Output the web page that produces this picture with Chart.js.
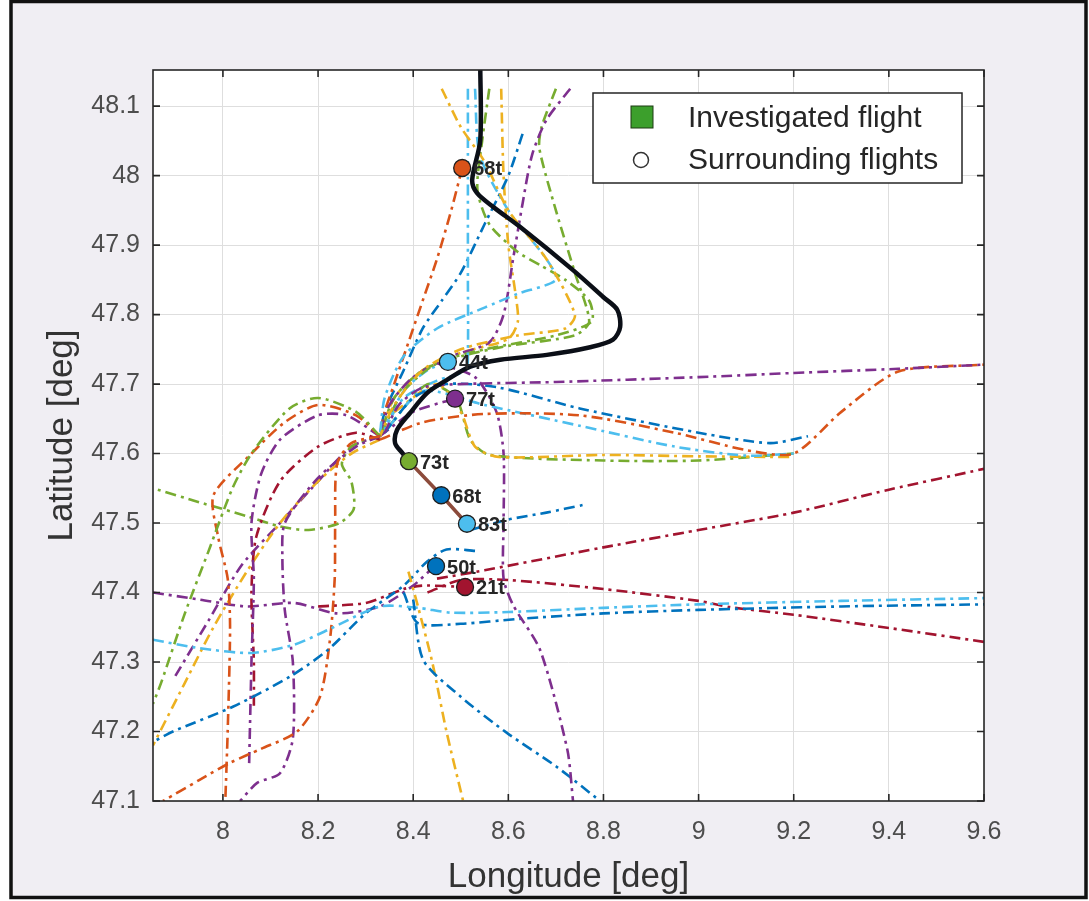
<!DOCTYPE html>
<html lang="en">
<head>
<meta charset="utf-8">
<title>Investigated and surrounding flights</title>
<script src="https://cdn.jsdelivr.net/npm/chart.js"></script>
<style>
  html, body { margin: 0; padding: 0; background: #fff; }
  #wrap { position: relative; width: 1089px; height: 901px; }
</style>
</head>
<body>
<div id="wrap"><canvas id="chart" width="1089" height="901"></canvas></div>
<script>
// axis ticks
const lonTicks = [8, 8.2, 8.4, 8.6, 8.8, 9, 9.2, 9.4, 9.6];
const latTicks = [47.1, 47.2, 47.3, 47.4, 47.5, 47.6, 47.7, 47.8, 47.9, 48, 48.1];

// investigated flight
const mainLon = [8.541, 8.541, 8.524, 8.534, 8.568, 8.625, 8.736, 8.800, 8.829, 8.835, 8.820, 8.772, 8.681, 8.583, 8.520, 8.471, 8.429, 8.393, 8.366, 8.362, 8.377, 8.391];
const mainLat = [48.160, 48.051, 47.994, 47.975, 47.955, 47.926, 47.864, 47.825, 47.807, 47.782, 47.764, 47.753, 47.742, 47.735, 47.725, 47.706, 47.687, 47.658, 47.634, 47.615, 47.601, 47.589];
const aheadLon = [8.391, 8.459, 8.513];
const aheadLat = [47.589, 47.540, 47.499];

// surrounding aircraft, current positions
const acLon = [8.503, 8.473, 8.488, 8.391, 8.459, 8.513, 8.448, 8.509];
const acLat = [48.011, 47.732, 47.679, 47.589, 47.540, 47.499, 47.438, 47.408];
const acLabel = ['68t', '44t', '77t', '73t', '68t', '83t', '50t', '21t'];

// surrounding trajectories
const t01Lon = [8.34, 8.37, 8.42, 8.5, 8.7, 9.0, 9.2, 9.42, 9.6];
const t01Lat = [47.63, 47.67, 47.695, 47.70, 47.703, 47.71, 47.716, 47.722, 47.728];
const t02Lon = [8.33, 8.42, 8.55, 8.75, 8.95, 9.1, 9.2, 9.3, 9.42, 9.6];
const t02Lat = [47.62, 47.645, 47.657, 47.655, 47.63, 47.605, 47.60, 47.66, 47.718, 47.728];
const t03Lon = [8.34, 8.4, 8.47, 8.58, 8.75, 9.0, 9.15, 9.23];
const t03Lat = [47.63, 47.68, 47.70, 47.695, 47.665, 47.63, 47.615, 47.625];
const t04Lon = [8.35, 8.42, 8.55, 8.75, 8.95, 9.1, 9.2];
const t04Lat = [47.64, 47.69, 47.67, 47.64, 47.61, 47.597, 47.60];
const t05Lon = [8.36, 8.45, 8.5, 8.53, 8.58, 8.8, 9.0, 9.2];
const t05Lat = [47.66, 47.70, 47.66, 47.61, 47.595, 47.598, 47.596, 47.595];
const t06Lon = [8.35, 8.43, 8.49, 8.52, 8.56, 8.8, 9.0, 9.2];
const t06Lat = [47.64, 47.70, 47.68, 47.62, 47.598, 47.59, 47.59, 47.60];
const t07Lon = [8.45, 8.53, 8.575, 8.59, 8.59, 8.59, 8.61, 8.667, 8.724, 8.736];
const t07Lat = [47.73, 47.71, 47.66, 47.60, 47.50, 47.42, 47.382, 47.317, 47.174, 47.10];
const t08Lon = [8.40, 8.421, 8.5, 8.597, 8.7, 8.793];
const t08Lat = [47.39, 47.303, 47.25, 47.198, 47.15, 47.10];
const t09Lon = [8.39, 8.41, 8.44, 8.47, 8.505];
const t09Lat = [47.43, 47.38, 47.30, 47.20, 47.10];
const t10Lon = [7.853, 7.95, 8.06, 8.15, 8.22, 8.33, 8.41, 8.48, 8.6, 8.8, 9.0, 9.3, 9.6];
const t10Lat = [47.332, 47.32, 47.313, 47.325, 47.346, 47.38, 47.378, 47.371, 47.372, 47.378, 47.383, 47.388, 47.392];
const t11Lon = [8.38, 8.41, 8.5, 8.62, 8.8, 9.0, 9.3, 9.6];
const t11Lat = [47.40, 47.356, 47.355, 47.362, 47.37, 47.375, 47.38, 47.383];
const t12Lon = [8.43, 8.5, 8.6, 8.8, 9.0, 9.066, 9.2, 9.4, 9.6];
const t12Lat = [47.40, 47.418, 47.418, 47.405, 47.388, 47.379, 47.368, 47.349, 47.329];
const t13Lon = [8.45, 8.55, 8.8, 9.0, 9.2, 9.4, 9.6];
const t13Lat = [47.42, 47.432, 47.465, 47.49, 47.515, 47.548, 47.578];
const t14Lon = [8.52, 8.6, 8.68, 8.757];
const t14Lat = [47.49, 47.505, 47.515, 47.526];
const t15Lon = [8.53, 8.47, 8.43, 8.38, 8.3, 8.22, 8.141, 8.022, 7.895, 7.853];
const t15Lat = [47.46, 47.462, 47.445, 47.41, 47.37, 47.317, 47.279, 47.236, 47.20, 47.185];
const t16Lon = [8.33, 8.27, 8.24, 8.236, 8.235, 8.225, 8.204, 8.156, 8.08, 8.015, 7.95, 7.874];
const t16Lat = [47.625, 47.615, 47.585, 47.50, 47.42, 47.332, 47.25, 47.20, 47.175, 47.155, 47.13, 47.10];
const t17Lon = [8.33, 8.28, 8.2, 8.13, 8.125, 8.13, 8.147, 8.147, 8.12, 8.072, 8.036];
const t17Lat = [47.625, 47.61, 47.565, 47.50, 47.45, 47.375, 47.30, 47.19, 47.14, 47.126, 47.10];
const t18Lon = [8.33, 8.28, 8.2, 8.14, 8.06, 8.02, 7.97, 7.92, 7.87, 7.853];
const t18Lat = [47.625, 47.66, 47.68, 47.665, 47.60, 47.55, 47.46, 47.37, 47.27, 47.24];
const t19Lon = [8.33, 8.28, 8.2, 8.13, 8.06, 7.98, 7.99, 8.01, 8.015, 8.01, 8.005];
const t19Lat = [47.625, 47.655, 47.67, 47.645, 47.60, 47.54, 47.48, 47.42, 47.35, 47.20, 47.10];
const t20Lon = [8.33, 8.26, 8.2, 8.12, 8.08, 8.06, 8.065, 8.06, 8.055];
const t20Lat = [47.625, 47.655, 47.655, 47.62, 47.57, 47.50, 47.42, 47.30, 47.15];
const t21Lon = [8.33, 8.28, 8.2, 8.12, 8.07, 8.06, 8.065, 8.065];
const t21Lat = [47.62, 47.63, 47.61, 47.56, 47.48, 47.40, 47.30, 47.23];
const t22Lon = [8.33, 8.27, 8.2, 8.12, 8.05, 7.98, 7.92, 7.853];
const t22Lat = [47.62, 47.60, 47.56, 47.50, 47.43, 47.35, 47.27, 47.18];
const t23Lon = [8.33, 8.27, 8.25, 8.27, 8.275, 8.245, 8.18, 8.12, 8.05, 7.95, 7.853];
const t23Lat = [47.625, 47.61, 47.585, 47.56, 47.52, 47.50, 47.49, 47.495, 47.51, 47.53, 47.55];
const t24Lon = [7.853, 7.95, 8.05, 8.15, 8.24, 8.33, 8.4, 8.44];
const t24Lat = [47.40, 47.39, 47.38, 47.385, 47.37, 47.38, 47.41, 47.435];
const t25Lon = [7.9, 7.97, 8.04, 8.12, 8.2, 8.27, 8.33];
const t25Lat = [47.28, 47.36, 47.44, 47.50, 47.56, 47.61, 47.625];
const t26Lon = [8.46, 8.5, 8.55, 8.6, 8.68, 8.74, 8.72, 8.62, 8.5, 8.42, 8.36, 8.33];
const t26Lat = [48.125, 48.07, 48.02, 47.95, 47.88, 47.80, 47.78, 47.77, 47.75, 47.72, 47.67, 47.625];
const t27Lon = [8.515, 8.515, 8.515, 8.515, 8.51, 8.45, 8.38, 8.34];
const t27Lat = [48.125, 48.0, 47.85, 47.75, 47.72, 47.705, 47.68, 47.635];
const t28Lon = [8.56, 8.545, 8.535, 8.56, 8.62, 8.67, 8.72, 8.77, 8.775, 8.7, 8.55, 8.45, 8.38, 8.33];
const t28Lat = [48.125, 48.05, 47.98, 47.93, 47.89, 47.87, 47.85, 47.82, 47.79, 47.77, 47.75, 47.73, 47.69, 47.625];
const t29Lon = [8.53, 8.54, 8.6, 8.68, 8.7, 8.62, 8.55, 8.45, 8.38, 8.34, 8.33];
const t29Lat = [48.125, 48.03, 47.95, 47.88, 47.85, 47.83, 47.81, 47.78, 47.74, 47.68, 47.625];
const t30Lon = [8.73, 8.68, 8.65, 8.63, 8.61, 8.59, 8.56, 8.48, 8.4, 8.35, 8.33];
const t30Lat = [48.125, 48.08, 48.03, 47.96, 47.88, 47.80, 47.76, 47.74, 47.71, 47.67, 47.625];
const t31Lon = [8.70, 8.67, 8.665, 8.7, 8.74, 8.77, 8.74, 8.6, 8.5, 8.42, 8.36, 8.33];
const t31Lat = [48.125, 48.07, 48.04, 47.95, 47.86, 47.79, 47.77, 47.755, 47.74, 47.72, 47.68, 47.625];
const t32Lon = [8.503, 8.48, 8.45, 8.42, 8.39, 8.36, 8.34, 8.33];
const t32Lat = [48.011, 47.95, 47.88, 47.82, 47.76, 47.70, 47.66, 47.625];
const t33Lon = [8.63, 8.6, 8.55, 8.5, 8.46, 8.42, 8.38, 8.34, 8.33];
const t33Lat = [48.06, 48.0, 47.93, 47.86, 47.82, 47.78, 47.72, 47.66, 47.625];
const t34Lon = [8.585, 8.59, 8.6, 8.615, 8.62, 8.6, 8.5, 8.42, 8.36, 8.33];
const t34Lat = [48.125, 48.0, 47.90, 47.83, 47.79, 47.765, 47.745, 47.72, 47.68, 47.625];
const t35Lon = [8.33, 8.4, 8.488];
const t35Lat = [47.625, 47.66, 47.679];
const t36Lon = [8.33, 8.38, 8.43, 8.473];
const t36Lat = [47.625, 47.69, 47.72, 47.732];
const t37Lon = [8.2, 8.3, 8.38, 8.42, 8.509];
const t37Lat = [47.38, 47.385, 47.405, 47.41, 47.408];

// MATLAB default line colours
const BLUE = '#0072bd', ORANGE = '#d95319', YELLOW = '#edb120', PURPLE = '#7e2f8e',
      GREEN = '#77ac30', CYAN = '#4dbeee', RED = '#a2142f';

const acColors = [ORANGE, CYAN, PURPLE, GREEN, BLUE, CYAN, BLUE, RED];

const tracks = [
  [t01Lon, t01Lat, PURPLE], [t02Lon, t02Lat, ORANGE], [t03Lon, t03Lat, BLUE],
  [t04Lon, t04Lat, CYAN], [t05Lon, t05Lat, YELLOW], [t06Lon, t06Lat, GREEN],
  [t07Lon, t07Lat, PURPLE], [t08Lon, t08Lat, BLUE], [t09Lon, t09Lat, YELLOW],
  [t10Lon, t10Lat, CYAN], [t11Lon, t11Lat, BLUE], [t12Lon, t12Lat, RED],
  [t13Lon, t13Lat, RED], [t14Lon, t14Lat, BLUE], [t15Lon, t15Lat, BLUE],
  [t16Lon, t16Lat, ORANGE], [t17Lon, t17Lat, PURPLE], [t18Lon, t18Lat, GREEN],
  [t19Lon, t19Lat, ORANGE], [t20Lon, t20Lat, PURPLE], [t21Lon, t21Lat, RED],
  [t22Lon, t22Lat, YELLOW], [t23Lon, t23Lat, GREEN], [t24Lon, t24Lat, PURPLE],
  [t25Lon, t25Lat, PURPLE], [t26Lon, t26Lat, YELLOW], [t27Lon, t27Lat, CYAN],
  [t28Lon, t28Lat, GREEN], [t29Lon, t29Lat, CYAN], [t30Lon, t30Lat, PURPLE],
  [t31Lon, t31Lat, GREEN], [t32Lon, t32Lat, ORANGE], [t33Lon, t33Lat, BLUE],
  [t34Lon, t34Lat, YELLOW], [t35Lon, t35Lat, PURPLE], [t36Lon, t36Lat, CYAN],
  [t37Lon, t37Lat, RED]
];

const FONT = '"Liberation Sans", Arial, Helvetica, sans-serif';
const pts = (lon, lat) => lon.map((v, i) => ({ x: v, y: lat[i] }));

const datasets = [
  {
    label: 'aircraft',
    data: pts(acLon, acLat),
    showLine: false,
    pointRadius: 8.5,
    pointBackgroundColor: acColors,
    pointBorderColor: '#1e1e1e',
    pointBorderWidth: 1.3,
    order: 0
  },
  {
    label: 'investigated',
    data: pts(mainLon, mainLat),
    showLine: true,
    borderColor: '#0b0f17',
    borderWidth: 4.5,
    pointRadius: 0,
    tension: 0.3,
    order: 1
  },
  {
    label: 'ahead',
    data: pts(aheadLon, aheadLat),
    showLine: true,
    borderColor: '#8c4b3b',
    borderWidth: 3.5,
    pointRadius: 0,
    order: 1
  }
];

tracks.forEach(([lon, lat, col], i) => {
  datasets.push({
    label: 'track ' + (i + 1),
    data: pts(lon, lat),
    showLine: true,
    borderColor: col,
    borderWidth: 2.6,
    borderDash: [11, 5, 3, 5],
    pointRadius: 0,
    tension: 0.25,
    order: 2
  });
});

// figure background, white axes face
const figureBg = {
  id: 'figureBg',
  beforeDraw(chart) {
    const { ctx, width, height, chartArea: a } = chart;
    ctx.save();
    ctx.fillStyle = '#ffffff';
    ctx.fillRect(0, 0, width, height);
    ctx.fillStyle = '#f0eef3';
    ctx.fillRect(11, 1, 1075, 896);
    ctx.strokeStyle = '#111111';
    ctx.lineWidth = 3.5;
    ctx.strokeRect(11, 1.5, 1075, 896);
    ctx.fillStyle = '#ffffff';
    ctx.fillRect(a.left, a.top, a.right - a.left, a.bottom - a.top);
    ctx.restore();
  }
};

// box around axes with inward tick marks on all sides
const axesBox = {
  id: 'axesBox',
  afterDatasetsDraw(chart) {
    const { ctx, chartArea: a, scales: { x, y } } = chart;
    ctx.save();
    ctx.strokeStyle = '#262626';
    ctx.lineWidth = 1.6;
    ctx.strokeRect(a.left, a.top, a.right - a.left, a.bottom - a.top);
    ctx.beginPath();
    lonTicks.forEach(v => {
      const px = x.getPixelForValue(v);
      ctx.moveTo(px, a.bottom); ctx.lineTo(px, a.bottom - 7);
      ctx.moveTo(px, a.top); ctx.lineTo(px, a.top + 7);
    });
    latTicks.forEach(v => {
      const py = y.getPixelForValue(v);
      ctx.moveTo(a.left, py); ctx.lineTo(a.left + 7, py);
      ctx.moveTo(a.right, py); ctx.lineTo(a.right - 7, py);
    });
    ctx.stroke();

    // weight labels beside each aircraft
    const meta = chart.getDatasetMeta(0);
    ctx.font = 'bold 20px ' + FONT;
    ctx.fillStyle = '#262626';
    ctx.textBaseline = 'middle';
    meta.data.forEach((p, i) => ctx.fillText(acLabel[i], p.x + 11, p.y + 2));
    ctx.restore();
  }
};

// legend box in the upper right
const legendBox = {
  id: 'legendBox',
  afterDraw(chart) {
    const { ctx, chartArea: a } = chart;
    const right = a.right - 22, top = a.top + 23;
    const left = right - 369, bottom = top + 90;
    ctx.save();
    ctx.fillStyle = '#ffffff';
    ctx.fillRect(left, top, right - left, bottom - top);
    ctx.strokeStyle = '#262626';
    ctx.lineWidth = 1.5;
    ctx.strokeRect(left, top, right - left, bottom - top);

    ctx.fillStyle = '#3c9f2c';
    ctx.fillRect(left + 38, top + 13, 22, 22);
    ctx.strokeStyle = '#1d3a12';
    ctx.lineWidth = 1;
    ctx.strokeRect(left + 38, top + 13, 22, 22);

    ctx.beginPath();
    ctx.arc(left + 48, top + 67, 7.5, 0, Math.PI * 2);
    ctx.strokeStyle = '#333333';
    ctx.lineWidth = 1.5;
    ctx.stroke();

    ctx.fillStyle = '#262626';
    ctx.font = '30px ' + FONT;
    ctx.textBaseline = 'middle';
    ctx.fillText('Investigated flight', left + 95, top + 26);
    ctx.fillText('Surrounding flights', left + 95, top + 68);
    ctx.restore();
  }
};

const tickFmt = v => String(Math.round(v * 10) / 10);

new Chart(document.getElementById('chart'), {
  type: 'scatter',
  data: { datasets },
  plugins: [figureBg, axesBox, legendBox],
  options: {
    responsive: false,
    animation: false,
    devicePixelRatio: 1,
    layout: { padding: { top: 70, right: 105, bottom: 0, left: 0 } },
    plugins: { legend: { display: false }, tooltip: { enabled: false } },
    scales: {
      x: {
        type: 'linear',
        min: 7.853,
        max: 9.6,
        afterBuildTicks: s => { s.ticks = lonTicks.map(v => ({ value: v })); },
        afterFit: s => { s.height = 100; },
        grid: { color: '#dedede', lineWidth: 1, drawTicks: false },
        border: { display: false },
        ticks: { font: { family: FONT, size: 25 }, color: '#4d4d4d', padding: 16, callback: tickFmt, maxRotation: 0 },
        title: { display: true, text: 'Longitude [deg]', font: { family: FONT, size: 35 }, color: '#333333', padding: { top: 0, bottom: 3 } }
      },
      y: {
        type: 'linear',
        min: 47.1,
        max: 48.152,
        afterBuildTicks: s => { s.ticks = latTicks.map(v => ({ value: v })); },
        afterFit: s => { s.width = 153; },
        grid: { color: '#dedede', lineWidth: 1, drawTicks: false },
        border: { display: false },
        ticks: { font: { family: FONT, size: 25 }, color: '#4d4d4d', padding: 13, callback: tickFmt },
        title: { display: true, text: 'Latitude [deg]', font: { family: FONT, size: 35 }, color: '#333333', padding: { top: 41, bottom: 0 } }
      }
    }
  }
});
</script>
</body>
</html>
